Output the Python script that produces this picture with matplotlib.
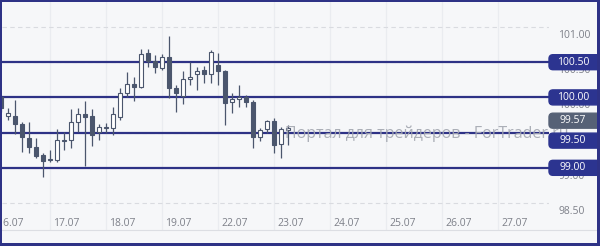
import matplotlib
matplotlib.use('Agg')
import matplotlib.pyplot as plt
import matplotlib.transforms as mtransforms
from matplotlib.patches import Rectangle, FancyBboxPatch
from matplotlib.lines import Line2D

plt.rcParams['font.family'] = ['Open Sans', 'DejaVu Sans']

# ---------------- data ----------------
day_labels = ['16.07', '17.07', '18.07', '19.07', '22.07',
              '23.07', '24.07', '25.07', '26.07', '27.07']
bars_per_day = 8
first_bar_offset = 1  # first bar = 16.07, 2nd bar of the day

opens = [100.01, 99.74, 99.74, 99.62, 99.42, 99.30, 99.18, 99.11, 99.11, 99.38,
         99.39, 99.65, 99.76, 99.74, 99.51, 99.57, 99.57, 99.72, 100.06, 100.19,
         100.15, 100.63, 100.52, 100.42, 100.57, 100.13, 100.02, 100.26, 100.33, 100.39,
         100.33, 100.46, 100.38, 99.93, 99.98, 100.01, 99.93, 99.44, 99.55, 99.66,
         99.34, 99.54]
highs = [100.03, 99.85, 99.96, 99.65, 99.65, 99.42, 99.21, 99.25, 99.55, 99.51,
         99.84, 99.85, 99.95, 99.84, 99.62, 99.64, 99.86, 100.13, 100.36, 100.29,
         100.69, 100.69, 100.60, 100.62, 100.87, 100.18, 100.38, 100.50, 100.43, 100.45,
         100.67, 100.63, 100.39, 100.06, 100.18, 100.03, 99.96, 99.57, 99.68, 99.71,
         99.58, 99.61]
lows = [99.79, 99.68, 99.48, 99.22, 99.21, 99.14, 98.87, 99.08, 99.08, 99.25,
        99.28, 99.51, 99.03, 99.31, 99.39, 99.49, 99.47, 99.68, 100.01, 99.95,
        100.13, 100.43, 100.35, 100.39, 99.99, 99.79, 99.91, 100.18, 100.11, 100.20,
        100.20, 100.18, 99.61, 99.78, 99.86, 99.86, 99.28, 99.38, 99.49, 99.21,
        99.14, 99.32]
closes = [99.85, 99.78, 99.62, 99.44, 99.30, 99.17, 99.10, 99.12, 99.39, 99.39,
          99.65, 99.76, 99.72, 99.47, 99.58, 99.58, 99.76, 100.06, 100.19, 100.15,
          100.62, 100.52, 100.43, 100.57, 100.13, 100.06, 100.26, 100.29, 100.38, 100.33,
          100.64, 100.38, 99.92, 99.98, 100.01, 99.93, 99.44, 99.54, 99.66, 99.32,
          99.55, 99.57]

levels = [100.50, 100.00, 99.50, 99.00]
last_price = 99.57
y_ticks = [98.50, 99.00, 99.50, 100.00, 100.50, 101.00]
watermark = 'Портал для трейдеров - ForTrader.ru'

# ---------------- style ----------------
BG = '#f6f7f9'
NAVY = '#2e3286'
CANDLE = '#4b566d'
TXT = '#7d8089'

W, H, DPI = 600, 246, 100
fig = plt.figure(figsize=(W / DPI, H / DPI), dpi=DPI, facecolor=BG)
ax = fig.add_axes([2 / W, 16 / H, 547 / W, 228 / H])
ax.set_facecolor(BG)
for s in ax.spines.values():
    s.set_visible(False)

# ticks / grid
day_pos = list(range(len(day_labels)))
ax.set_xticks(day_pos)
ax.set_xticklabels([])
ax.set_yticks(y_ticks)
ax.set_yticklabels([f'{v:.2f}' for v in y_ticks])

px_day = 56.0
ax.set_xlim(8 / px_day, 555 / px_day)
ax.set_ylim(98.117, 101.355)

for d in day_pos:
    ax.axvline(d, color='#eaecf0', lw=0.9, zorder=0)
for v in y_ticks:
    ax.axhline(v, color='#d9dbe0', lw=0.8, ls=(0, (4, 3)), zorder=0)

ax.tick_params(axis='x', length=0)
ax.yaxis.tick_right()
ax.tick_params(axis='y', length=0, pad=6.5, labelsize=7.5, labelcolor=TXT)
for lab in ax.get_yticklabels():
    lab.set_transform(lab.get_transform() +
                      mtransforms.ScaledTranslation(0, -7 / DPI, fig.dpi_scale_trans))

# day labels (left-aligned just right of each day line, clipped at the plot edge)
xlab_trans = ax.get_xaxis_transform() + mtransforms.ScaledTranslation(
    3 / DPI, 0, fig.dpi_scale_trans)
for d, lab in zip(day_pos, day_labels):
    ax.text(d, 7 / 228, lab, transform=xlab_trans, fontsize=7.5, color=TXT,
            ha='left', va='center', clip_on=True)

# level lines
for lv in levels:
    ax.axhline(lv, color=NAVY, lw=1.6, zorder=2)

# candles
t = [(first_bar_offset + i) / bars_per_day for i in range(len(opens))]
ax.vlines(t, lows, highs, color=CANDLE, lw=0.9, zorder=3)
for ti, o, c in zip(t, opens, closes):
    up = c >= o
    ax.bar(ti, c - o if abs(c - o) > 0.004 else 0.004, bottom=o, width=0.08,
           color='white' if up else CANDLE, edgecolor=CANDLE, linewidth=0.8, zorder=4)

# watermark
fig.text(285 / W, (H - 137.5) / H, watermark, fontsize=11.5, color='#a3a7b0',
         alpha=0.9, ha='left', va='baseline', zorder=5)

# price boxes
def price_box(value, text, color, dy_px):
    trans = fig.dpi_scale_trans + mtransforms.ScaledTranslation(
        1.0, value, ax.get_yaxis_transform())
    box = FancyBboxPatch((0.0, (-7.5 - dy_px) / DPI), 0.52, 0.15,
                         boxstyle='round,pad=0,rounding_size=0.04',
                         transform=trans, facecolor=color, edgecolor=color,
                         zorder=6, clip_on=False)
    fig.add_artist(box)
    fig.text(0, 0, text, transform=trans + mtransforms.ScaledTranslation(
        24 / DPI, -dy_px / DPI, fig.dpi_scale_trans),
        fontsize=7.5, color='white', ha='center', va='center', zorder=7)

box_shift = {100.50: 0, 100.00: 0, 99.50: 8, 99.00: 0}
for lv in levels:
    price_box(lv, f'{lv:.2f}', '#2c3490', box_shift[lv])
price_box(last_price, f'{last_price:.2f}', '#566176', -7)

# bottom separator and frame
fig.add_artist(Line2D([2 / W, 597 / W], [16 / H, 16 / H], color='#dcdee3', lw=0.8))
for (x0, y0, w, h) in [(0, 0, 2, H), (0, H - 2, W, 2), (W - 3, 0, 3, H), (0, 0, W, 3)]:
    fig.add_artist(Rectangle((x0 / W, y0 / H), w / W, h / H, transform=fig.transFigure,
                             facecolor=NAVY, edgecolor='none', zorder=10))

fig.savefig('out.png', dpi=DPI, facecolor=BG)
